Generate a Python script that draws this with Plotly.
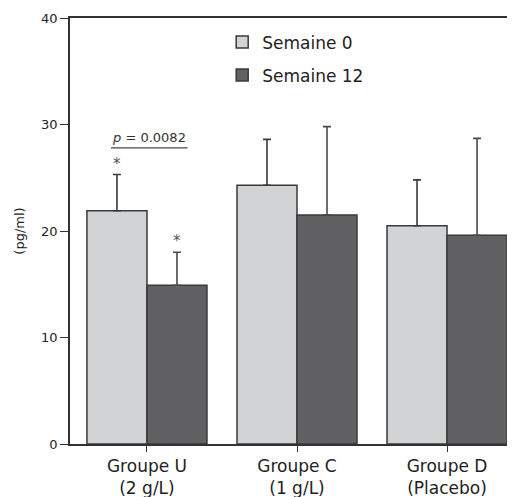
import plotly.graph_objects as go

groups = ['Groupe U<br>(2 g/L)', 'Groupe C<br>(1 g/L)', 'Groupe D<br>(Placebo)']
week0 = [21.9, 24.3, 20.5]
week0_err = [3.4, 4.3, 4.3]
week12 = [14.9, 21.5, 19.6]
week12_err = [3.1, 8.3, 9.1]
y_ticks = [0, 10, 20, 30, 40]

x = list(range(len(groups)))
FONT = 'DejaVu Sans, Arial, sans-serif'

fig = go.Figure()
fig.add_trace(go.Bar(
	x=x, y=week0, name='Semaine 0', legendgroup='a',
	marker=dict(color='#d1d3d4', line=dict(color='#3a3a3a', width=1.5)),
	error_y=dict(type='data', array=week0_err, arrayminus=[0] * 3, symmetric=False,
				 color='#3a3a3a', thickness=1.6, width=4),
))
fig.add_trace(go.Bar(
	x=x, y=week12, name='Semaine 12', legendgroup='b',
	marker=dict(color='#616163', line=dict(color='#3a3a3a', width=1.5)),
	error_y=dict(type='data', array=week12_err, arrayminus=[0] * 3, symmetric=False,
				 color='#4a4a4a', thickness=1.6, width=4),
))

# significance stars over groupe U
fig.add_annotation(x=x[0] - 0.2, y=week0[0] + week0_err[0], text='*', showarrow=False,
				   yanchor='bottom', yshift=0, font=dict(size=15, color='#555'))
fig.add_annotation(x=x[0] + 0.2, y=week12[0] + week12_err[0], text='*', showarrow=False,
				   yanchor='bottom', yshift=0, font=dict(size=15, color='#555'))
# p-value bracket
fig.add_shape(type='line', x0=-0.24, x1=0.27, y0=27.8, y1=27.8, line=dict(color='#444', width=1.2))
fig.add_annotation(x=0.015, y=27.8, text='<i>p</i> = 0.0082', showarrow=False, yanchor='bottom',
				   yshift=1, font=dict(size=13, color='#333', family=FONT))

# page body has an 8px margin, so the figure is sized/placed to compensate
fig.update_layout(
	width=507, height=489,
	margin=dict(l=62, r=0, t=10, b=53),
	barmode='group', bargap=0.2, bargroupgap=0,
	plot_bgcolor='white', paper_bgcolor='white',
	font=dict(family=FONT, color='#222', size=14),
	legend=dict(x=0.342, y=0.985, xanchor='left', yanchor='top', font=dict(size=17),
				tracegroupgap=8, traceorder='grouped', bgcolor='rgba(0,0,0,0)'),
	xaxis=dict(
		range=[-0.513, 2.453], tickvals=x, ticktext=groups,
		showline=True, linecolor='#333', linewidth=1.5, mirror=True,
		ticks='outside', ticklen=6, tickcolor='#333', showgrid=False, zeroline=False,
		tickfont=dict(size=17), automargin=False,
	),
	yaxis=dict(
		range=[0, 40], tickvals=y_ticks,
		showline=True, linecolor='#333', linewidth=1.5,
		ticks='outside', ticklen=8, tickcolor='#333', showgrid=False, zeroline=False,
		tickfont=dict(size=13), automargin=False,
		title=dict(text='(pg/ml)', font=dict(size=13), standoff=14),
	),
)

fig.write_html('out.html')
